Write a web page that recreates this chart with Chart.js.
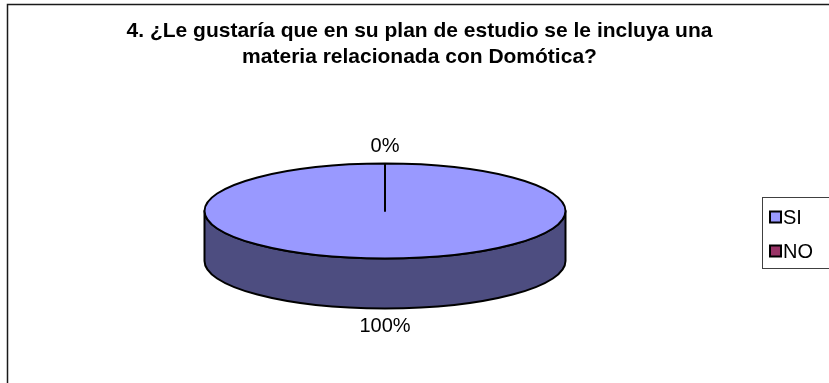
<!DOCTYPE html>
<html>
<head>
<meta charset="utf-8">
<script src="https://cdn.jsdelivr.net/npm/chart.js@4.4.1/dist/chart.umd.min.js"></script>
<style>
  html, body { margin: 0; padding: 0; background: #ffffff; }
  #wrap { width: 829px; height: 383px; }
</style>
</head>
<body>
<div id="wrap"><canvas id="c" width="829" height="383"></canvas></div>
<script>
// Survey answers
const categories = ['SI', 'NO'];
const values = [100, 0];
const sliceColors = ['#9999FF', '#993366'];
const titleLines = [
  '4. ¿Le gustaría que en su plan de estudio se le incluya una',
  'materia relacionada con Domótica?'
];

// Tilted-pie geometry
const PIE_X = 385;       // centre of the top face
const PIE_Y = 211;
const PIE_R = 180.5;     // horizontal radius
const PIE_RY = 47.5;     // vertical radius of the top face
const PIE_DEPTH = 50;    // height of the side wall
const LABEL_GAP = 17.5;
const FONT = '"Liberation Sans", Arial, sans-serif';
const LABEL_SIZE = 20;

function shade(hex, f) {
  const n = parseInt(hex.slice(1), 16);
  const r = Math.round(((n >> 16) & 255) * f);
  const g = Math.round(((n >> 8) & 255) * f);
  const b = Math.round((n & 255) * f);
  return `rgb(${r},${g},${b})`;
}

// Draws the pie's slices as a tilted disc: side wall first, then the
// library's own arcs squashed vertically, then outlines and percent labels.
const tiltedPie = {
  id: 'tiltedPie',
  beforeDatasetsDraw(chart) {
    const ctx = chart.ctx;
    const meta = chart.getDatasetMeta(0);
    const arcs = meta.data;
    ctx.save();
    ctx.lineWidth = 2;
    ctx.strokeStyle = '#000';
    ctx.lineJoin = 'round';
    arcs.forEach((arc, i) => {
      const { startAngle, endAngle } = arc.getProps(['startAngle', 'endAngle'], true);
      const a = Math.max(startAngle, 0);
      const b = Math.min(endAngle, Math.PI);
      if (b <= a) return;
      ctx.beginPath();
      ctx.ellipse(PIE_X, PIE_Y, PIE_R, PIE_RY, 0, a, b, false);
      ctx.ellipse(PIE_X, PIE_Y + PIE_DEPTH, PIE_R, PIE_RY, 0, b, a, true);
      ctx.closePath();
      ctx.fillStyle = shade(sliceColors[i], 0.5);
      ctx.fill();
      ctx.stroke();
    });
    ctx.restore();

    const ref = arcs[0];
    ctx.save();
    ctx.translate(PIE_X, PIE_Y);
    ctx.scale(PIE_R / ref.outerRadius, PIE_RY / ref.outerRadius);
    ctx.translate(-ref.x, -ref.y);
  },
  afterDatasetsDraw(chart) {
    const ctx = chart.ctx;
    ctx.restore();
    const meta = chart.getDatasetMeta(0);
    const data = chart.data.datasets[0].data;
    const total = data.reduce((s, v) => s + v, 0);

    ctx.save();
    ctx.lineWidth = 2;
    ctx.strokeStyle = '#000';
    ctx.lineJoin = 'round';
    meta.data.forEach((arc) => {
      const { startAngle, endAngle } = arc.getProps(['startAngle', 'endAngle'], true);
      if (endAngle - startAngle <= 0) return;
      ctx.beginPath();
      ctx.moveTo(PIE_X, PIE_Y);
      ctx.ellipse(PIE_X, PIE_Y, PIE_R, PIE_RY, 0, startAngle, endAngle, false);
      ctx.closePath();
      ctx.stroke();
    });

    ctx.fillStyle = '#000';
    ctx.font = LABEL_SIZE + 'px ' + FONT;
    ctx.textAlign = 'center';
    ctx.textBaseline = 'middle';
    meta.data.forEach((arc, i) => {
      const { startAngle, endAngle } = arc.getProps(['startAngle', 'endAngle'], true);
      const mid = (startAngle + endAngle) / 2;
      const s = Math.sin(mid), c = Math.cos(mid);
      const x = PIE_X + (PIE_R + LABEL_GAP) * c;
      const y = PIE_Y + (PIE_RY + LABEL_GAP) * s + (s > 0 ? PIE_DEPTH : 0);
      const pct = Math.round(data[i] / total * 100) + '%';
      ctx.fillText(pct, x, y);
    });
    ctx.restore();
  }
};

// Outer frame and boxed legend
const frameAndLegend = {
  id: 'frameAndLegend',
  afterDraw(chart) {
    const ctx = chart.ctx;
    ctx.save();
    ctx.strokeStyle = '#1a1a1a';
    ctx.lineWidth = 1.5;
    ctx.strokeRect(7.5, 4.5, 1000, 1000);

    ctx.strokeStyle = '#404040';
    ctx.lineWidth = 1;
    ctx.strokeRect(762.5, 197.5, 100, 71);

    ctx.font = LABEL_SIZE + 'px ' + FONT;
    ctx.textAlign = 'left';
    ctx.textBaseline = 'middle';
    categories.forEach((name, i) => {
      const y = 211.5 + 34 * i;
      ctx.fillStyle = sliceColors[i];
      ctx.fillRect(770, y, 11, 11);
      ctx.strokeStyle = '#000';
      ctx.lineWidth = 2;
      ctx.strokeRect(770, y, 11, 11);
      ctx.fillStyle = '#000';
      ctx.fillText(name, 783, y + 6.5);
    });
    ctx.restore();
  }
};

new Chart(document.getElementById('c'), {
  type: 'pie',
  data: {
    labels: categories,
    datasets: [{
      data: values,
      backgroundColor: sliceColors,
      borderWidth: 0
    }]
  },
  options: {
    responsive: false,
    devicePixelRatio: 1,
    animation: false,
    events: [],
    layout: { padding: { left: 10, right: 0, top: 0, bottom: 0 } },
    plugins: {
      legend: { display: false },
      tooltip: { enabled: false },
      title: {
        display: true,
        text: titleLines,
        color: '#000',
        font: { family: FONT, size: 21, weight: 'bold', lineHeight: 26 / 21 },
        padding: { top: 18, bottom: 10 }
      }
    }
  },
  plugins: [tiltedPie, frameAndLegend]
});
</script>
</body>
</html>
